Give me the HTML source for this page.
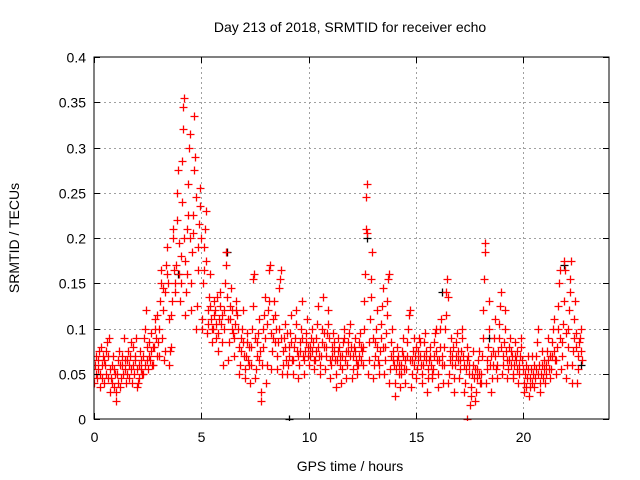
<!DOCTYPE html>
<html><head><meta charset="utf-8"><style>
html,body{margin:0;padding:0;background:#fff;}
svg{display:block;font-family:"Liberation Sans",sans-serif;}
</style></head><body>
<svg id="chart" width="640" height="480" viewBox="0 0 640 480">
<rect width="640" height="480" fill="#fff"/>
<g id="grid"></g>
<g id="marks"></g>
<rect x="94" y="57" width="515" height="362" fill="none" stroke="#000" stroke-width="1"/>
<g id="ticks"></g>
<text x="350" y="32" font-size="14" text-anchor="middle">Day 213 of 2018, SRMTID for receiver echo</text>
<text x="350" y="471" font-size="14" text-anchor="middle">GPS time / hours</text>
<text transform="translate(19,238) rotate(-90)" font-size="14" text-anchor="middle">SRMTID / TECUs</text>
</svg>
<script>
const xTicks=[0,5,10,15,20];
const yTicks=[0,0.05,0.1,0.15,0.2,0.25,0.3,0.35,0.4];
const yTickLabels=["0","0.05","0.1","0.15","0.2","0.25","0.3","0.35","0.4"];
const binWidth=0.25;
const binStarts=[0,0.25,0.5,0.75,1,1.25,1.5,1.75,2,2.25,2.5,2.75,3,3.25,3.5,3.75,4,4.25,4.5,4.75,5,5.25,5.5,5.75,6,6.25,6.5,6.75,7,7.25,7.5,7.75,8,8.25,8.5,8.75,9,9.25,9.5,9.75,10,10.25,10.5,10.75,11,11.25,11.5,11.75,12,12.25,12.5,12.75,13,13.25,13.5,13.75,14,14.25,14.5,14.75,15,15.25,15.5,15.75,16,16.25,16.5,16.75,17,17.25,17.5,17.75,18,18.25,18.5,18.75,19,19.25,19.5,19.75,20,20.25,20.5,20.75,21,21.25,21.5,21.75,22,22.25,22.5];
const binValues=[
[.04,.06,.07,.05,.045,.065,.055,.075],
[.035,.05,.08,.06,.045,.07,.04,.065],
[.06,.075,.05,.085,.045,.07,.09,.055],
[.03,.045,.06,.04,.07,.035,.055,.05],
[.02,.03,.05,.065,.04,.075,.06,.035],
[.045,.06,.07,.05,.09,.055,.065,.04],
[.05,.065,.075,.045,.06,.07,.085,.055],
[.04,.06,.08,.05,.07,.065,.09,.055],
[.035,.04,.06,.045,.075,.055,.065,.05],
[.05,.07,.09,.06,.1,.12,.08,.065],
[.055,.07,.085,.065,.075,.095,.06,.08],
[.06,.08,.1,.11,.09,.07,.115,.085],
[.07,.1,.13,.15,.165,.09,.12,.145],
[.065,.075,.14,.17,.19,.16,.15,.11],
[.06,.075,.08,.115,.13,.2,.21,.165],
[.14,.15,.17,.22,.25,.275,.16,.195],
[.13,.15,.18,.24,.285,.32,.345,.355,.2,.175],
[.115,.14,.16,.21,.225,.26,.3,.315,.2],
[.12,.15,.185,.205,.225,.275,.335,.29,.245],
[.1,.125,.165,.19,.215,.235,.255,.2],
[.1,.11,.15,.165,.19,.21,.23,.175],
[.095,.105,.12,.135,.16,.125,.11,.1],
[.085,.1,.115,.13,.12,.09,.105,.135],
[.075,.095,.11,.125,.14,.105,.115,.085],
[.06,.1,.12,.15,.17,.185,.135,.11],
[.065,.085,.11,.125,.145,.1,.12,.095],
[.07,.09,.105,.12,.13,.115,.1,.08],
[.05,.06,.075,.09,.1,.12,.085,.07],
[.045,.055,.07,.085,.095,.065,.08,.06],
[.04,.06,.08,.1,.125,.155,.16,.09],
[.045,.055,.07,.085,.095,.11,.065,.075],
[.02,.03,.06,.08,.1,.115,.135,.09],
[.04,.06,.105,.12,.13,.165,.17,.095],
[.055,.075,.09,.11,.13,.115,.085,.1],
[.055,.07,.085,.1,.145,.155,.165,.09],
[.05,.06,.075,.09,.105,.08,.065,.095],
[.05,.06,.07,.08,.095,.115,.085,.065],
[.05,.065,.08,.09,.105,.12,.075,.07],
[.045,.06,.075,.085,.1,.13,.09,.07],
[.05,.065,.075,.085,.095,.11,.08,.07],
[.06,.07,.08,.09,.1,.075,.085,.065],
[.055,.065,.075,.09,.105,.125,.08,.07],
[.05,.06,.07,.085,.1,.135,.095,.08],
[.055,.07,.08,.095,.105,.12,.09,.065],
[.045,.06,.07,.08,.095,.085,.075,.065],
[.035,.05,.065,.075,.09,.08,.06,.07],
[.04,.055,.07,.085,.1,.09,.065,.075],
[.045,.06,.075,.085,.095,.105,.07,.08],
[.045,.055,.07,.08,.09,.075,.065,.06],
[.05,.06,.07,.085,.095,.08,.065,.075],
[.06,.08,.1,.13,.16,.21,.245,.26,.205],
[.05,.065,.085,.11,.135,.155,.185,.09],
[.045,.06,.07,.085,.1,.12,.08,.065],
[.05,.06,.075,.09,.105,.125,.145,.08],
[.05,.065,.08,.095,.115,.13,.155,.16],
[.04,.055,.07,.085,.1,.065,.075,.06],
[.025,.04,.055,.065,.08,.07,.06,.05],
[.035,.05,.06,.075,.09,.07,.055,.065],
[.04,.055,.07,.085,.1,.115,.12,.065],
[.035,.05,.065,.075,.09,.06,.07,.08],
[.045,.055,.065,.075,.09,.085,.07,.06],
[.04,.05,.06,.07,.085,.095,.065,.075],
[.03,.045,.055,.065,.08,.07,.06,.05],
[.045,.055,.07,.085,.095,.1,.075,.065],
[.035,.05,.065,.08,.1,.11,.07,.06],
[.04,.06,.08,.1,.115,.14,.155,.135],
[.04,.05,.065,.075,.09,.07,.06,.08],
[.03,.045,.06,.07,.085,.095,.075,.065],
[.045,.055,.065,.075,.09,.1,.07,.06],
[.03,.04,.055,.065,.08,.07,.06,.05],
[.015,.025,.035,.05,.06,.075,.045,.055],
[.02,.03,.045,.055,.065,.075,.05,.04],
[.04,.05,.07,.09,.12,.155,.185,.195],
[.04,.055,.065,.08,.1,.13,.06,.07],
[.03,.045,.06,.075,.09,.11,.07,.055],
[.045,.06,.075,.09,.105,.125,.14,.08],
[.05,.06,.07,.085,.1,.12,.075,.065],
[.045,.055,.065,.08,.09,.075,.06,.07],
[.045,.05,.06,.07,.085,.065,.055,.075],
[.04,.05,.06,.07,.08,.09,.065,.055],
[.03,.04,.05,.06,.035,.045,.055,.07],
[.025,.035,.045,.055,.07,.04,.05,.06],
[.035,.045,.055,.07,.085,.1,.05,.06],
[.03,.04,.05,.06,.075,.045,.055,.065],
[.04,.05,.06,.075,.09,.065,.055,.07],
[.045,.055,.07,.085,.1,.11,.075,.065],
[.05,.065,.08,.1,.125,.15,.165,.09],
[.055,.07,.085,.105,.13,.175,.165,.095],
[.045,.06,.08,.1,.12,.14,.155,.175],
[.04,.06,.075,.09,.11,.13,.095,.08],
[.04,.055,.07,.085,.09,.1,.075,.065]
];
const blackHours=[3.9,6.2,9.1,12.7,16.2,18.4,21.9,22.7];
const blackValues=[.16,.185,0,.2,.14,.09,.17,.06];
const extraRedHours=[17.4];
const extraRedValues=[0];

const X0=94,X1=609,Y0=419,Y1=57,XMAX=24,YMAX=0.4;
function xs(h){return X0+(X1-X0)*h/XMAX;}
function ys(v){return Y0-(Y0-Y1)*v/YMAX;}
const NS="http://www.w3.org/2000/svg";
const grid=document.getElementById('grid'),ticks=document.getElementById('ticks'),marks=document.getElementById('marks');
function ln(g,x1,y1,x2,y2,st,dash){const l=document.createElementNS(NS,'line');l.setAttribute('x1',x1);l.setAttribute('y1',y1);l.setAttribute('x2',x2);l.setAttribute('y2',y2);l.setAttribute('stroke',st);if(dash)l.setAttribute('stroke-dasharray',dash);g.appendChild(l);return l;}
function tx(g,x,y,s,anchor){const t=document.createElementNS(NS,'text');t.setAttribute('x',x);t.setAttribute('y',y);t.setAttribute('font-size','14');t.setAttribute('text-anchor',anchor);t.textContent=s;g.appendChild(t);return t;}
xTicks.forEach(h=>{const x=Math.round(xs(h))+0.5;
 if(h>0){const gl=ln(grid,x,Y1,x,Y0,'#a0a0a0','2,3');
 
 }
 ln(ticks,x,Y0,x,Y0-6,'#000');ln(ticks,x,Y1,x,Y1+6,'#000');
 const t=tx(ticks,x,Y0+23,String(h),'middle');
 
 });
yTicks.forEach((v,i)=>{const y=Math.round(ys(v))+0.5;
 if(i>0&&i<yTicks.length-1){const gl=ln(grid,X0,y,X1,y,'#a0a0a0','2,3');
 
 }
 ln(ticks,X0,y,X0+6,y,'#000');ln(ticks,X1,y,X1-6,y,'#000');
 const t=tx(ticks,X0-8,y+5,yTickLabels[i],'end');
 
 });
function cross(h,v,col,name){const x=Math.round(xs(h))+0.5,y=Math.round(ys(v))+0.5;
 const p=document.createElementNS(NS,'path');
 p.setAttribute('d',`M${x-4},${y}H${x+4}M${x},${y-4}V${y+4}`);
 p.setAttribute('stroke',col);p.setAttribute('stroke-width','1.3');p.setAttribute('fill','none');
 
 
 marks.appendChild(p);}
blackHours.forEach((h,i)=>cross(h,blackValues[i],'#000','black-point'));
binStarts.forEach((t0,b)=>{const vals=binValues[b];const n=vals.length;
 vals.forEach((v,j)=>cross(t0+(j+0.5)*binWidth/n,v,'#ff0000','red-point'));});
extraRedHours.forEach((h,i)=>cross(h,extraRedValues[i],'#ff0000','red-point'));
const clip=document.createElementNS(NS,'clipPath');clip.setAttribute('id','pc');
const cr=document.createElementNS(NS,'rect');cr.setAttribute('x',X0);cr.setAttribute('y',Y1);cr.setAttribute('width',X1-X0);cr.setAttribute('height',Y0-Y1+2);
clip.appendChild(cr);document.getElementById('chart').appendChild(clip);marks.setAttribute('clip-path','url(#pc)');
</script>
</body></html>
